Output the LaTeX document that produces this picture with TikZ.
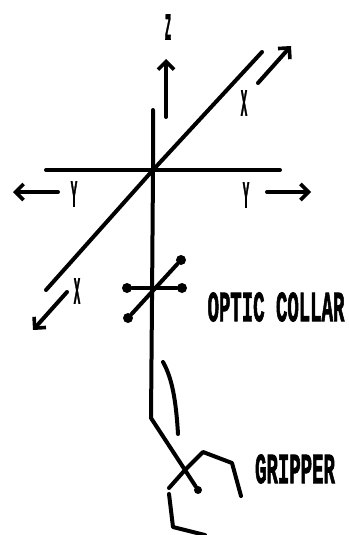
\documentclass[tikz,border=0pt]{standalone}
\usepackage{fontspec}
\setmonofont[BoldFeatures={FakeBold=2.5}]{Liberation Mono}
\usepackage{tikz}
\usetikzlibrary{arrows.meta,positioning}
\tikzset{
  stroke/.style={line width=4pt,line cap=round,line join=round},
  dirarrow/.style={stroke,-{Straight Barb[length=8pt,width=16pt,line width=3.6pt]}},
  endpoint/.style={circle,fill=black,inner sep=0pt,minimum size=10pt},
  axislabel/.style={font=\ttfamily\bfseries\fontsize{17}{17}\selectfont,xscale=0.62,yscale=2.2,transform shape,inner sep=0pt},
  partlabel/.style={font=\ttfamily\bfseries\fontsize{19}{19}\selectfont,yscale=2.25,transform shape,inner sep=0pt}
}
\begin{document}
\begin{tikzpicture}[x=1pt,y=-1pt]
    \useasboundingbox (0,0) rectangle (348,535);
    \coordinate (origin) at (153,170);
    \coordinate (mastTop) at (153,110);
    \coordinate (wrist) at (151,418);
    \coordinate (pivot) at (185,470);
    \coordinate (axisLeft) at (46,170);
    \coordinate (axisRight) at (280,170);
    \coordinate (diagTop) at (262,52);
    \coordinate (diagEnd) at (46,290);

    \draw[stroke] (axisLeft) -- (axisRight);
    \draw[stroke] (diagEnd) -- (origin) -- (diagTop);
    \draw[stroke] (mastTop) -- (origin) -- (152,300) -- (wrist) -- (pivot);

    \node[axislabel] (labelz) at (168,27) {Z};
    \node[axislabel] (labelxa) at (244,103) {X};
    \node[axislabel] (labelya) at (74,194) {Y};
    \node[axislabel] (labelyb) at (246,195) {Y};
    \node[axislabel] (labelxb) at (77,291) {X};
    \draw[dirarrow] (166,117) -- (166,59);
    \draw[dirarrow] (258,83) -- (291,46);
    \draw[dirarrow] (58,192) -- (13,192);
    \draw[dirarrow] (267,192) -- (311,192);
    \draw[dirarrow] (67,292) -- (33,330);

    \node[endpoint] (collarLeft) at (127,288) {};
    \node[endpoint] (collarRight) at (182,288) {};
    \node[endpoint] (collarLow) at (128,318) {};
    \node[endpoint] (collarHigh) at (181,260) {};
    \draw[stroke] (collarLeft) -- (collarRight);
    \draw[stroke] (collarLow) -- (collarHigh);
    \node[partlabel] (collar) at (276,307) {OPTIC COLLAR};

    \draw[stroke] (163,362) .. controls (172,378) and (176,400) .. (178,434);

    \node[endpoint,minimum size=8pt] (fingerTip) at (198,490) {};
    \draw[stroke] (pivot) -- (fingerTip);
    \draw[stroke] (169,488) -- (pivot) -- (203,452) -- (232,463) -- (241,496);
    \draw[stroke] (169,494) -- (173,527) -- (205,535);
    \node[partlabel] (gripper) at (295,469) {GRIPPER};
\end{tikzpicture}
\end{document}
